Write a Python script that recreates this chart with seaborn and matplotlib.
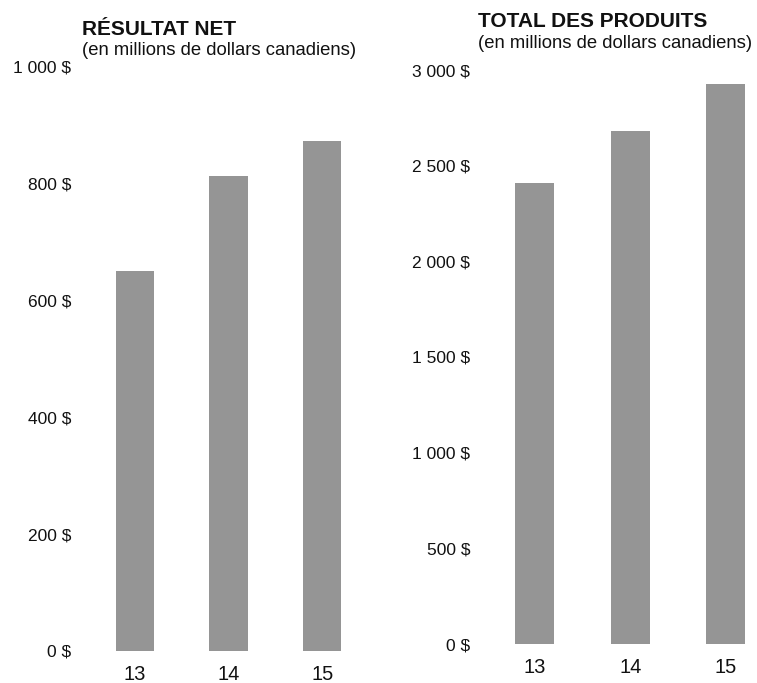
import matplotlib
matplotlib.use('Agg')
import matplotlib.pyplot as plt
import seaborn as sns
import pandas as pd

# data
years = ['13', '14', '15']
net_income = [650, 813, 873]
total_revenue = [2409, 2681, 2927]

left_ticks = [0, 200, 400, 600, 800, 1000]
right_ticks = [0, 500, 1000, 1500, 2000, 2500, 3000]

bar_color = '#959595'

sns.set_style('white')
plt.rcParams['font.family'] = ['Liberation Sans', 'DejaVu Sans']


def fr_money(v):
    # french format: space as thousands separator, dollar sign after
    return '{:,}'.format(int(v)).replace(',', ' ') + ' $'


W, H = 757, 683
fig = plt.figure(figsize=(W / 100, H / 100), dpi=100)


def px_axes(x0, x1, y_top, y_bottom):
    return fig.add_axes([x0 / W, (H - y_bottom) / H, (x1 - x0) / W, (y_bottom - y_top) / H])


ax1 = px_axes(88, 369, 67, 651)
ax2 = px_axes(487, 755, 70, 644)

df1 = pd.DataFrame({'year': years, 'value': net_income})
df2 = pd.DataFrame({'year': years, 'value': total_revenue})

sns.barplot(data=df1, x='year', y='value', color=bar_color, width=0.41,
            saturation=1, linewidth=0, ax=ax1)
sns.barplot(data=df2, x='year', y='value', color=bar_color, width=0.41,
            saturation=1, linewidth=0, ax=ax2)

ax1.set_xlim(-0.5, 2.5)
ax1.set_ylim(0, 1000)
ax2.set_xlim(-0.5, -0.5 + (755 - 487) / 95.5)
ax2.set_ylim(0, 3000)

for ax, ticks in [(ax1, left_ticks), (ax2, right_ticks)]:
    ax.set_yticks(ticks)
    ax.set_yticklabels([fr_money(t) for t in ticks])
    ax.set_xlabel('')
    ax.set_ylabel('')
    for s in ax.spines.values():
        s.set_visible(False)
    ax.tick_params(axis='y', length=0, pad=12, labelsize=12.5, labelcolor='#111111')
    ax.tick_params(axis='x', length=0, pad=10, labelsize=14.5, labelcolor='#111111')
    ax.patch.set_alpha(0)


def fig_text(x, y, s, **kw):
    fig.text(x / W, (H - y) / H, s, ha='left', va='baseline', color='#111111', **kw)


fig_text(82, 35, 'RÉSULTAT NET', fontsize=15, fontweight='bold')
fig_text(82, 55, '(en millions de dollars canadiens)', fontsize=13.3)
fig_text(478, 27, 'TOTAL DES PRODUITS', fontsize=15, fontweight='bold')
fig_text(478, 48.5, '(en millions de dollars canadiens)', fontsize=13.3)

fig.savefig('out.png', dpi=100, facecolor='white')
